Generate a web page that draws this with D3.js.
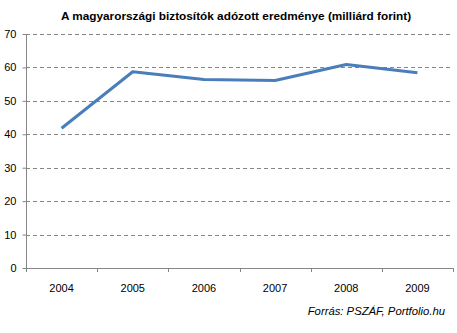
<!DOCTYPE html>
<html><head><meta charset="utf-8">
<script src="https://cdn.jsdelivr.net/npm/d3@7"></script>
<style>body{margin:0;background:#fff}svg{display:block}</style>
</head><body>
<script>
const years = ["2004","2005","2006","2007","2008","2009"];
const values = [41.8, 58.7, 56.4, 56.1, 60.9, 58.4];
const yTicks = [0,10,20,30,40,50,60,70];
const title = "A magyarországi biztosítók adózott eredménye (milliárd forint)";
const source = "Forrás: PSZÁF, Portfolio.hu";

const W=457,H=333;
const svg=d3.select("body").append("svg").attr("width",W).attr("height",H)
  .style("font-family","'Liberation Sans', Arial, sans-serif");
const L=26,R=453,T=34,B=268;
const x=d3.scaleBand().domain(years).range([L,R]);
const y=d3.scaleLinear().domain([0,70]).range([B,T]);

svg.append("text").attr("x",236).attr("y",20).attr("text-anchor","middle")
  .attr("font-size",11.8).attr("font-weight","bold").text(title);

// gridlines
svg.append("g").selectAll("line").data(yTicks.filter(d=>d>0)).join("line")
  .attr("x1",L).attr("x2",R).attr("y1",d=>Math.round(y(d))+0.5).attr("y2",d=>Math.round(y(d))+0.5)
  .attr("stroke","#868686").attr("stroke-dasharray","4,3");

// y axis
const ya=svg.append("g").attr("transform",`translate(${L+0.5},0)`)
  .call(d3.axisLeft(y).tickValues(yTicks).tickSize(4).tickPadding(6));
ya.select(".domain").attr("stroke","#868686").attr("d",`M0,${T}V${B}`);
ya.selectAll(".tick line").attr("stroke","#868686");
ya.selectAll("text").attr("font-size",11).attr("fill","#000").attr("font-family","'Liberation Sans', Arial, sans-serif");

// x axis
const xa=svg.append("g").attr("transform",`translate(0,${B+0.5})`)
  .call(d3.axisBottom(x).tickSize(0).tickPadding(16));
xa.select(".domain").attr("stroke","#868686").attr("d",`M${L},0H${R}`);
xa.selectAll("text").attr("font-size",11).attr("fill","#000").attr("font-family","'Liberation Sans', Arial, sans-serif");
const edges=[...years.map(d=>x(d)),R];
svg.append("g").selectAll("line").data(edges).join("line")
  .attr("x1",d=>Math.round(d)+0.5).attr("x2",d=>Math.round(d)+0.5)
  .attr("y1",B).attr("y2",B+4).attr("stroke","#868686");

// line
const line=d3.line().x((d,i)=>x(years[i])+x.bandwidth()/2).y(d=>y(d));
svg.append("path").datum(values).attr("d",line).attr("fill","none")
  .attr("stroke","#4a7ebb").attr("stroke-width",3).attr("stroke-linejoin","round");

svg.append("text").attr("x",445).attr("y",315).attr("text-anchor","end")
  .attr("font-size",11.3).attr("font-style","italic").text(source);
</script>
</body></html>
